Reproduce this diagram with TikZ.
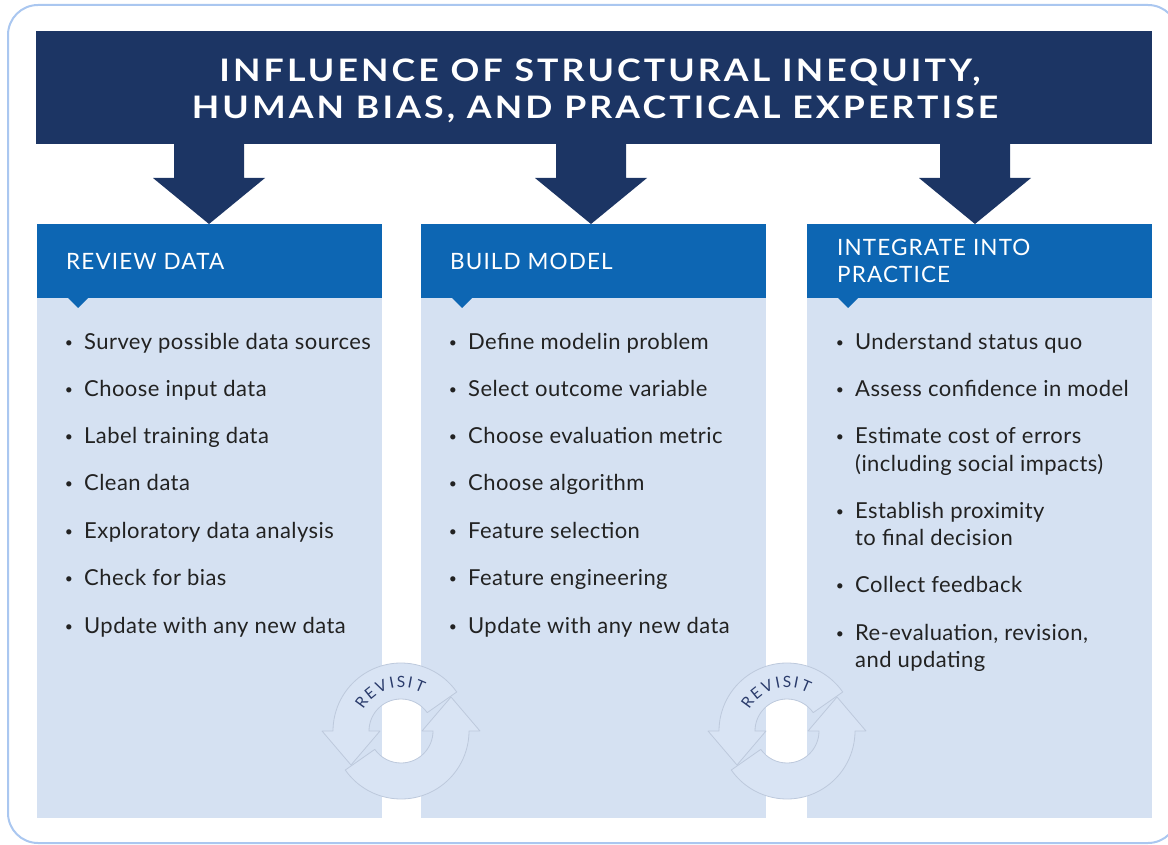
\documentclass[tikz,border=0pt]{standalone}
\usepackage{fontspec}
\setmainfont{Lato}
\definecolor{navy}{HTML}{1C3564}
\definecolor{hdr}{HTML}{0D66B3}
\definecolor{bodyc}{HTML}{D5E1F2}
\definecolor{framec}{HTML}{AAC7F0}
\definecolor{txt}{HTML}{222222}
\definecolor{revc}{HTML}{2A3B6B}
\definecolor{revfill}{HTML}{D9E4F4}
\definecolor{revedge}{HTML}{BDC9DC}
\newfontfamily\titlefont[LetterSpace=10,FakeStretch=1.15]{Lato Bold}
\newfontfamily\hdrfont[LetterSpace=5]{Lato}
\newfontfamily\itemfont[LetterSpace=2]{Lato}
\begin{document}
\begin{tikzpicture}[x=1pt,y=-1pt,
  titletext/.style={anchor=base, inner sep=0pt, text=white, font=\titlefont\fontsize{31}{32}\selectfont},
  hdrtext/.style={anchor=base west, inner sep=0pt, text=white, font=\hdrfont\fontsize{22.5}{26}\selectfont},
  itemtext/.style={anchor=base west, inner sep=0pt, text=txt, font=\itemfont\fontsize{22}{26}\selectfont},
  bul/.style={anchor=base, inner sep=0pt, text=txt, font=\fontsize{14}{14}\selectfont},
  revletter/.style={inner sep=0pt, text=revc, font=\fontsize{15.5}{16}\selectfont},
  revarrow/.style={fill=revfill, draw=revedge, line width=0.8pt, line join=round}]
\useasboundingbox (0,0) rectangle (1168,845);
\begin{scope}
  \clip (0,0) rectangle (1168,845);
  \draw[framec, line width=2pt, rounded corners=30pt] (8,5) rectangle (1178,843);
\end{scope}
% banner
\fill[navy] (36,31) rectangle (1152,144);
\foreach \cx in {209,591,975}{
  \fill[navy] (\cx-35,143) -- (\cx+35,143) -- (\cx+35,178) -- (\cx+56,178) -- (\cx,224) -- (\cx-56,178) -- (\cx-35,178) -- cycle;
}
\node[titletext] (t1) at (600,82) {INFLUENCE OF STRUCTURAL INEQUITY,};
\node[titletext] (t2) at (595,119) {HUMAN BIAS, AND PRACTICAL EXPERTISE};
% columns
\foreach \lx in {37,421,807}{
  \fill[bodyc] (\lx,297) rectangle (\lx+345,818);
  \fill[hdr] (\lx,224) rectangle (\lx+345,298);
  \fill[hdr] (\lx+30,297) -- (\lx+52,297) -- (\lx+41,308) -- cycle;
}
\node[hdrtext] (h1) at (66,270) {REVIEW DATA};
\node[hdrtext] (h2) at (450,270) {BUILD MODEL};
\node[hdrtext] (h3a) at (837,256) {INTEGRATE INTO};
\node[hdrtext] (h3b) at (837,283) {PRACTICE};
% column 1
\foreach \y/\t in {349/Survey possible data sources, 396/Choose input data, 443/Label training data, 490/Clean data, 538/Exploratory data analysis, 585/Check for bias, 633/Update with any new data}{
  \node[bul] at (69,\y-2) {\textbullet};
  \node[itemtext] at (84,\y) {\t};
}
% column 2
\foreach \y/\t in {349/Define modelin problem, 396/Select outcome variable, 443/Choose evaluation metric, 490/Choose algorithm, 538/Feature selection, 585/Feature engineering, 633/Update with any new data}{
  \node[bul] at (453,\y-2) {\textbullet};
  \node[itemtext] at (468,\y) {\t};
}
% column 3
\foreach \y in {349,396,443,518,592,640}{
  \node[bul] at (840,\y-2) {\textbullet};
}
\node[itemtext] (c1) at (855,349) {Understand status quo};
\node[itemtext] (c2) at (855,396) {Assess confidence in model};
\node[itemtext] (c3) at (855,443) {Estimate cost of errors};
\node[itemtext] (c3b) at (855,471) {(including social impacts)};
\node[itemtext] (c4) at (855,518) {Establish proximity};
\node[itemtext] (c4b) at (855,545) {to final decision};
\node[itemtext] (c5) at (855,592) {Collect feedback};
\node[itemtext] (c6) at (855,640) {Re-evaluation, revision,};
\node[itemtext] (c6b) at (855,667) {and updating};
% revisit cycles
\foreach \cx in {401,787}{
\begin{scope}[shift={(\cx,731)}, yscale=-1]
  \filldraw[revarrow] (215:68) arc[start angle=215, end angle=360, radius=68] -- (79,0) -- (50,34) -- (21,0) -- (32,0) arc[start angle=360, end angle=215, radius=32] -- cycle;
  \filldraw[revarrow] (35:68) arc[start angle=35, end angle=180, radius=68] -- (-79,0) -- (-50,-34) -- (-21,0) -- (-32,0) arc[start angle=180, end angle=35, radius=32] -- cycle;
  \foreach \a/\l in {144/R,129/E,114/V,101/I,90/S,79/I,67/T}{
    \node[revletter, rotate=\a-90] at (\a:49) {\l};
  }
\end{scope}
}
\end{tikzpicture}
\end{document}
